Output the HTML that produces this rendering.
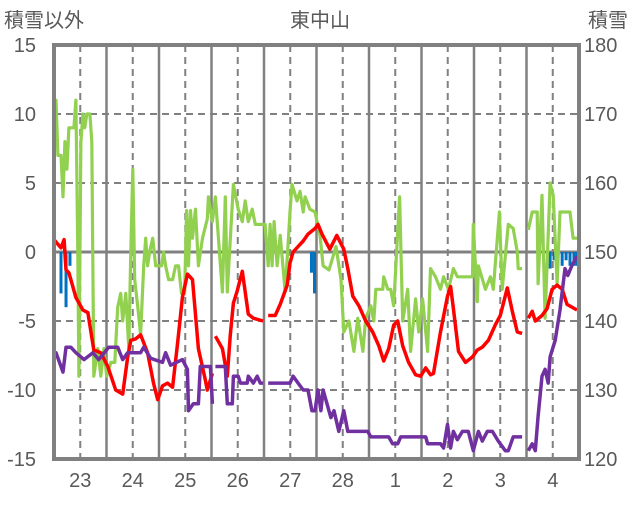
<!DOCTYPE html>
<html><head><meta charset="utf-8"><style>
html,body{margin:0;padding:0;background:#fff;}
svg text{font-family:"Liberation Sans","Noto Sans CJK JP",sans-serif;fill:#595959;}
</style></head><body>
<svg id="chart" width="636" height="501" viewBox="0 0 636 501" xmlns="http://www.w3.org/2000/svg">
<text x="320" y="27" font-size="20" text-anchor="middle">東中山</text>
<text x="4" y="27" font-size="20">積雪以外</text>
<text x="588" y="27" font-size="20">積雪</text>
<g id="grid"></g><g id="bars"></g><g id="lines"></g><g id="labels"></g>
<rect x="54" y="45" width="525" height="414" fill="none" stroke="#808080" stroke-width="4"/>
</svg>
<script>
const dayLabels=["23","24","25","26","27","28","1","2","3","4"];
const leftTicks=[15,10,5,0,-5,-10,-15];
const rightTicks=[180,170,160,150,140,130,120];
const greenT=[0,0.9,1.8,3.2,4.1,5,5.9,6.8,9.1,10,10.9,11.4,12.3,13.2,14.1,15,16.4,17.3,18.2,20,21.4,22.8,24.1,26,27.8,29.1,30.5,31.4,32.8,34.2,35.1,36,36.9,38.3,39.6,41,41.9,42.8,43.7,45.1,46.5,47.8,49.2,50.1,51,52.4,54.2,55.6,56.9,58.3,59.7,60.6,61.5,62.4,63.3,64.7,66,67.9,70.1,70.6,72.4,73.8,77,78.3,79.2,82,84.2,86.1,87.4,88.8,90.6,92,96.5,97.9,98.8,99.7,100.6,102,103.4,105.7,107.9,108.8,111.1,112.5,113.9,114.8,117,119.3,121.6,123,125.7,128.9,131.2,132.5,134.8,137.1,138.9,141.2,142.5,144.8,146.2,147.1,150.3,150.7,152.6,153.9,155.3,158,159.4,161.7,163,165.3,166.7,168.5,170.8,172.1,174.4,176.7,178.1,180.3,182.6,184.4,191.3,191.7,193.5,194,197.2,199.5,200.8,203.6,204.9,207.7,209.9,211.8,212.2,214,null,216.8,218.6,220.9,221.3,223.1,224.5,226.8,228.2,230,231.3,233.6,235.9,237.3,239.1];
const greenV=[11,11,7,7,4,8,6,9,9,11,0,-9,8,10,9,10,10,8,-9,-7,-9,-7,-9,-8,-8,-4,-3,-5,-3,-7,0,6,-2,-4,-6,-1,1,-1,0,1,-1,-1,-1,0,-1,-2,-2,-1,-1,-3,-3,3,-1,3,1,3.1,-1,1,2.4,4,2.2,4,-2.9,4,-2.9,4.9,3.1,2.2,3.7,2.2,3.1,2,2,-1,2,-1,2.2,-1,1.2,-2.9,2.9,4.9,3.7,4.4,2.9,4,3.1,2.9,1.2,-1,-1.3,0.4,-2,-5.8,-5,-7.2,-4.8,-7.2,-4.8,-3.9,-5,-2.7,-2.7,-1.8,-2.7,-2.7,-3.9,4,-5,-2.7,-7.2,-3.4,-5.8,-3.4,-7.2,-1.2,-1.8,-2.7,-1.8,-2.7,-1.2,-1.8,-1.8,2,-3.6,-1,-2.7,-1.8,-2.7,2.9,-2.7,2,1.7,0,-1.2,-1.2,null,1.6,2.9,2.9,-2.3,4.1,-4.8,5,4.1,-2.3,2.9,2.9,2.9,1,1];
const redT=[0,3.2,4.6,5.5,6.8,10,13.2,15.5,18.2,21.4,24.6,28.2,31.4,33.7,35.1,37.3,39.6,42.8,45.5,47.4,49.6,51.9,54.2,56.5,58.7,61,63.3,66,69.2,70.1,72.4,null,73.8,77,79.2,80.6,82,83.8,86.1,88.8,91.1,95.6,null,97.9,101.1,103.4,106.6,107.9,109.3,111.6,113.9,116.1,119.3,120.7,122.5,126.1,129.3,132.5,134.3,136.6,139.4,142.5,145.7,148.5,150.7,153,155.3,157.1,159.4,162.1,165.3,167.6,169.9,172.1,173.5,176.7,179.9,181.3,182.6,184.9,188.1,191.3,193.5,195.8,198.6,201.7,204,207.2,209.5,211.8,214,null,216.8,218.6,220,223.1,225.4,227.7,230,232.3,234.5,239.1];
const redV=[0.9,0.3,0.9,-1.3,-1.5,-3.3,-4.2,-4.4,-7.1,-7.3,-8.3,-10,-10.3,-7.6,-6.4,-6.3,-6,-7.3,-9.5,-10.7,-9.7,-9.5,-9.8,-6.6,-3.3,-1.6,-2,-7,-9.3,-10,-8.8,null,-6.1,-7,-9,-6,-3.7,-2.8,-1.4,-4.5,-4.8,-5,null,-4.6,-4.6,-3.8,-2.4,-0.8,0,0.4,0.8,1.3,1.7,2,1.3,0.2,1.2,0.2,-1.2,-3.2,-3.9,-5,-5.8,-6.8,-7.9,-7,-5.3,-5,-6.8,-8,-8.9,-9,-8.4,-8.9,-8.8,-5.8,-3.2,-2.5,-4.1,-7.2,-8,-7.6,-7.1,-6.9,-6.4,-5.3,-4.6,-2.6,-4.3,-5.8,-5.9,null,-4.8,-4.3,-5,-4.6,-4.1,-2.7,-2.4,-2.7,-3.8,-4.2];
const snowT=[0,0.9,4.1,5.5,7.7,10,13.7,17.8,20.5,25,29.1,31.4,33.7,39.6,41,44.2,49.6,51,53.3,58.7,61,61.5,63.7,66,66.9,71.5,72.4,null,73.8,78.3,79.2,81.5,82,84.2,85.2,88.3,88.8,91.1,92.9,94.3,95.6,null,97.9,107.9,109.3,111.6,113.9,116.1,117.9,119.3,120.7,122,123,126.6,128,130.2,132.5,134.3,143.4,144.8,153,154.8,157.1,158.5,169.9,170.8,176.7,178.1,179.9,181.3,182.6,184.4,186.7,189.4,191.7,194,195.8,198.1,200.4,203.1,206.3,207.7,209.9,214,null,216.8,218.6,220,221.3,223.1,224.5,225.9,226.8,229.1,231.3,233.6,234.9,236.7,239.1];
const snowV=[135.4,135.4,132.6,136.2,136.2,135.4,134.4,135.4,134.4,136.2,136.2,134.4,135.4,135.4,136.2,134.6,134,135.4,133.6,134.4,133,127,128,128,133.4,133.4,128,null,133.4,133.4,128,128,132,132,131,131,132,131,132,131,131,null,131,131,132,131,130,130,127,127,130,127,130,126,127,124,127,124,124,123.2,123.2,122.2,122.2,123.2,123.2,122.2,122.2,121.6,125,121.6,124,122.8,124,124,121.2,124,122.6,124,124,122.6,121.2,121.2,123.2,123.2,null,121.2,122.2,121.2,126.2,132,133,131,134.8,137.2,141.6,147.6,146.6,148,149.4];
const precipT=[3.2,5.5,7.3,117.7,119.1,226.8,228.6,230.4,232.3,234.1,235.9,237.7,239.1];
const precipV=[-3,-4,-1,-1.5,-3,-1.2,-0.6,-1,-1,-0.6,-1,-1,-1];

const X0=54,X1=579,Y0=45,Y1=459,NS="http://www.w3.org/2000/svg";
const xs=h=>X0+(X1-X0)*h/240;
const yL=v=>Y1-(v+15)/30*(Y1-Y0);
const yR=v=>Y1-(v-120)/60*(Y1-Y0);
function mk(tag,attrs,parent){const e=document.createElementNS(NS,tag);for(const k in attrs)e.setAttribute(k,attrs[k]);document.getElementById(parent).appendChild(e);return e;}

for(let i=0;i<10;i++){
  if(i>0){const l=mk('line',{x1:xs(i*24),x2:xs(i*24),y1:Y0,y2:Y1,stroke:'#808080','stroke-width':2.5},'grid');
  
  }
  const d=mk('line',{x1:xs(i*24+12),x2:xs(i*24+12),y1:Y0,y2:Y1,stroke:'#808080','stroke-width':2,'stroke-dasharray':'7,5'},'grid');
  
  
  const t=mk('text',{x:xs(i*24+12),y:487,'font-size':20,'text-anchor':'middle'},'labels');t.textContent=dayLabels[i];
  
  
}
leftTicks.forEach(v=>{
  if(v!==15&&v!==-15){const g=mk('line',{x1:X0,x2:X1,y1:yL(v),y2:yL(v),stroke:'#808080','stroke-width':v===0?3:2,'stroke-dasharray':v===0?'none':'7,5'},'grid');
  
  }
  const t=mk('text',{x:36,y:yL(v)+7,'font-size':20,'text-anchor':'end'},'labels');t.textContent=v;
  
  
});
rightTicks.forEach(v=>{
  const t=mk('text',{x:584,y:yR(v)+7,'font-size':20},'labels');t.textContent=v;
  
  
});
precipT.forEach((h,i)=>{
  const r=mk('rect',{x:xs(h)-1.5,y:yL(0),width:3,height:yL(precipV[i])-yL(0),fill:'#0070C0'},'bars');
  
  
});
function path(T,V,yf){let d='',pen=false;for(let i=0;i<T.length;i++){if(T[i]===null||V[i]===null){pen=false;continue;}d+=(pen?'L':'M')+xs(T[i]).toFixed(1)+' '+yf(V[i]).toFixed(1);pen=true;}return d;}
const g=mk('path',{d:path(greenT,greenV,yL),fill:'none',stroke:'#92D050','stroke-width':3.2,'stroke-linejoin':'round'},'lines');


const r=mk('path',{d:path(redT,redV,yL),fill:'none',stroke:'#FF0000','stroke-width':3.5,'stroke-linejoin':'round'},'lines');


const p=mk('path',{d:path(snowT,snowV,yR),fill:'none',stroke:'#7030A0','stroke-width':3.5,'stroke-linejoin':'round'},'lines');


</script>
</body></html>
